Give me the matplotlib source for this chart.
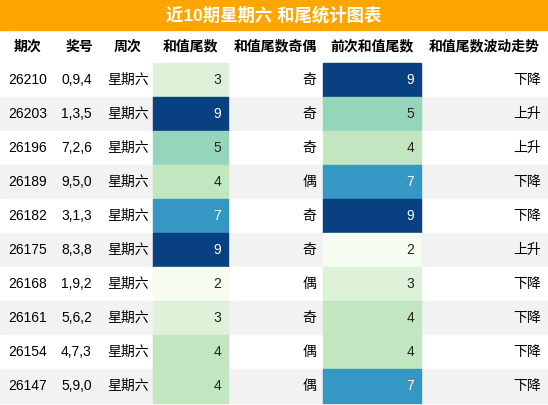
import matplotlib
matplotlib.use("Agg")
import matplotlib.pyplot as plt
from matplotlib.patches import Rectangle
from matplotlib import colors

plt.rcParams['font.family'] = ['Liberation Sans', 'Noto Sans CJK SC', 'DejaVu Sans']

title = "近10期星期六 和尾统计图表"
headers = ["期次", "奖号", "周次", "和值尾数", "和值尾数奇偶", "前次和值尾数", "和值尾数波动走势"]
issues = ["26210", "26203", "26196", "26189", "26182", "26175", "26168", "26161", "26154", "26147"]
numbers = ["0,9,4", "1,3,5", "7,2,6", "9,5,0", "3,1,3", "8,3,8", "1,9,2", "5,6,2", "4,7,3", "5,9,0"]
weekday = ["星期六"] * 10
tail = [3, 9, 5, 4, 7, 9, 2, 3, 4, 4]
parity = ["奇", "奇", "奇", "偶", "奇", "奇", "偶", "奇", "偶", "偶"]
prev_tail = [9, 5, 4, 7, 9, 2, 3, 4, 4, 7]
trend = ["下降", "上升", "上升", "下降", "下降", "上升", "下降", "下降", "下降", "下降"]

W, H = 548, 405
fig = plt.figure(figsize=(W/100, H/100), dpi=100)
ax = fig.add_axes([0, 0, 1, 1])
ax.set_xlim(0, W); ax.set_ylim(H, 0); ax.axis('off')

cmap = plt.get_cmap('GnBu')
norm = colors.Normalize(vmin=2, vmax=9)

xb = [0, 55, 103, 153, 228, 323, 421, 548]
title_h = 30
head_top, head_bot = 30, 63
row_h = 34.0

ax.add_patch(Rectangle((0, 0), W, title_h, color='#FFA500', zorder=0))
ax.text(W/2, title_h/2, title, ha='center', va='center', color='white', fontsize=12.5, fontweight='bold')
for i, h in enumerate(headers):
    ax.text((xb[i]+xb[i+1])/2, (head_top+head_bot)/2, h, ha='center', va='center', fontsize=10, fontweight='bold')

for r in range(10):
    y0 = head_bot + r*row_h
    yc = y0 + row_h/2
    bg = '#f2f2f2' if r % 2 == 1 else 'white'
    ax.add_patch(Rectangle((0, y0), W, row_h, color=bg, zorder=0))
    for ci, v in ((3, tail[r]), (5, prev_tail[r])):
        ax.add_patch(Rectangle((xb[ci], y0), xb[ci+1]-xb[ci], row_h, color=cmap(norm(v)), zorder=1))
        ax.text(xb[ci+1]-7, yc, str(v), ha='right', va='center', fontsize=10,
                color='white' if v >= 7 else '#222222', zorder=2)
    ax.text(8, yc, issues[r], ha='left', va='center', fontsize=10)
    ax.text(61, yc, numbers[r], ha='left', va='center', fontsize=10)
    ax.text(107, yc, weekday[r], ha='left', va='center', fontsize=10)
    ax.text(xb[5]-7, yc, parity[r], ha='right', va='center', fontsize=10)
    ax.text(xb[7]-7, yc, trend[r], ha='right', va='center', fontsize=10)

fig.savefig("out.png", dpi=100)
